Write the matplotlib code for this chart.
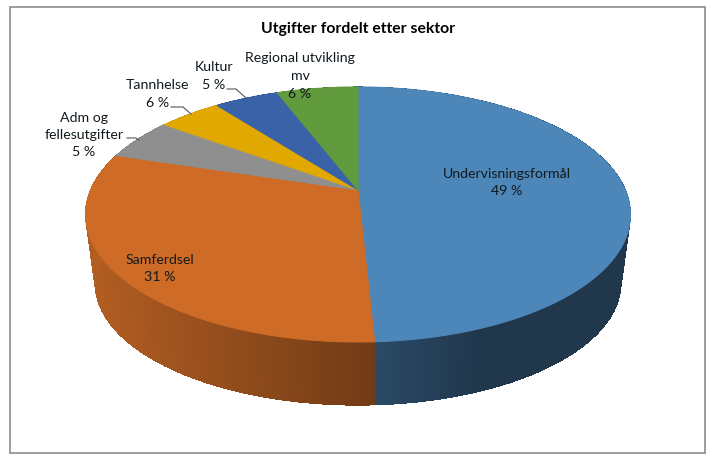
import numpy as np
import matplotlib
matplotlib.use("Agg")
import matplotlib.pyplot as plt
from matplotlib.collections import PolyCollection
from matplotlib.colors import to_rgb

plt.rcParams['font.family'] = ['Lato', 'DejaVu Sans']

title = "Utgifter fordelt etter sektor"
sectors = ["Undervisningsformål", "Samferdsel", "Adm og\nfellesutgifter", "Tannhelse", "Kultur", "Regional utvikling\nmv"]
percent_labels = [49, 31, 5, 6, 5, 6]
# slice sizes as drawn, the picture does not quite follow the rounded labels
drawn_shares = [49.2, 30.6, 5.3, 4.5, 4.6, 5.8]
colors = ["#4d86b9", "#cd6b27", "#8f8f8f", "#e0a800", "#3a62a8", "#629a3e"]

label_pos = [(507, 182.5), (160, 268.5), (84, 135), (158, 94), (214, 76), (300, 76)]
leaders = [[(127, 138), (136, 138), (139, 140)],
           [(171, 107), (183, 107), (191, 114)],
           [(227, 89), (236, 89), (246, 98)]]

# perspective of the disc, in pixels
cx = 358
top_y = 190
bottom_y = 260
a = 267.4
b = 122.8
k = 0.192


def rim(theta, y0, sx=1.0, sy=1.0, r=1.0):
    u = r * np.sin(theta)
    v = r * np.cos(theta)
    d = 1 + k * v
    return cx + sx * a * u / d, y0 - sy * b * v / d


def shade(color, x):
    f = np.interp(x, [90, 375, 480, 630], [0.88, 0.55, 0.41, 0.41])
    return tuple(np.array(to_rgb(color)) * f)


fig = plt.figure(figsize=(7.27, 4.67), dpi=100)
ax = fig.add_axes([0, 0, 1, 1])
ax.set_xlim(0, 727)
ax.set_ylim(467, 0)
ax.axis("off")

ax.add_patch(plt.Rectangle((9.5, 6.5), 695.5, 446.5, fill=False, ec="#8c8c8c", lw=1.2))

edges = 2 * np.pi * np.cumsum([0] + drawn_shares) / sum(drawn_shares)

# side wall first, the top covers whatever is behind it
for i in range(len(drawn_shares)):
    t = np.linspace(edges[i], edges[i + 1], max(3, int(drawn_shares[i] * 16)))
    x1, y1 = rim(t, top_y)
    x2, y2 = rim(t, bottom_y, 0.965, 0.955)
    strips = []
    strip_colors = []
    for j in range(len(t) - 1):
        strips.append([(x1[j], y1[j]), (x1[j + 1], y1[j + 1]), (x2[j + 1], y2[j + 1]), (x2[j], y2[j])])
        strip_colors.append(shade(colors[i], (x2[j] + x2[j + 1]) / 2))
    ax.add_collection(PolyCollection(strips, facecolors=strip_colors, edgecolors="none", antialiaseds=False, zorder=2))

for i in range(len(drawn_shares)):
    t = np.linspace(edges[i], edges[i + 1], 200)
    x, y = rim(t, top_y)
    ax.fill(np.r_[cx, x], np.r_[top_y, y], color=colors[i], lw=0.8, zorder=3)

ax.text(358, 29, title, fontsize=11.3, fontweight="bold", ha="center", va="center", color="black", zorder=5)

for name, pct, (x, y) in zip(sectors, percent_labels, label_pos):
    ax.text(x, y, f"{name}\n{pct} %", fontsize=10.2, ha="center", va="center", color="#111a1e", linespacing=1.55, zorder=5)

for line in leaders:
    xs, ys = zip(*line)
    ax.plot(xs, ys, color="#555555", lw=0.8, zorder=4)

fig.savefig("out.png", dpi=100)
